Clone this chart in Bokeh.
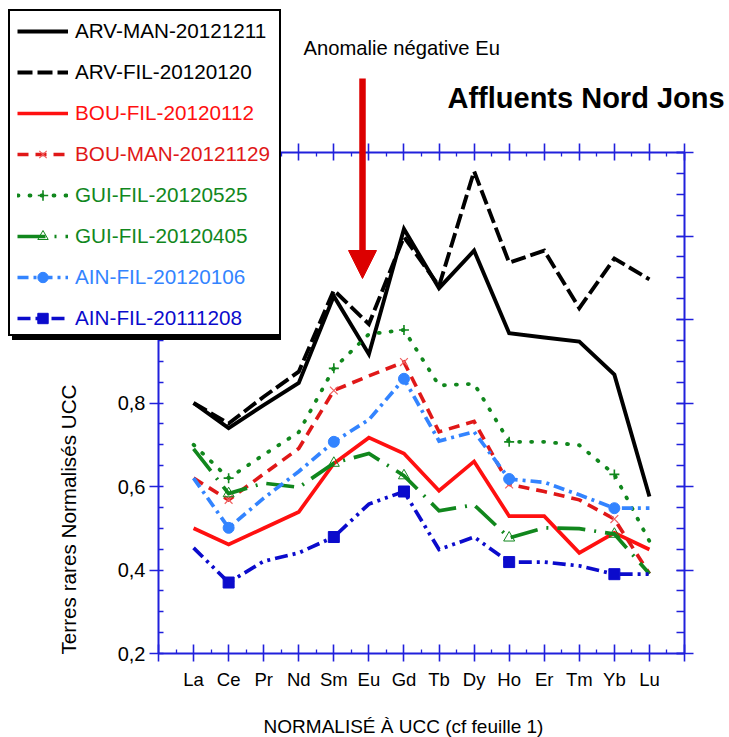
from bokeh.plotting import figure
from bokeh.models import (Range1d, LinearAxis, FixedTicker, CustomJSTickFormatter,
                          Legend, LegendItem, Label, Arrow, NormalHead)
from bokeh.embed import file_html
from bokeh.resources import INLINE

# ---------------- data ----------------
elements = ["La", "Ce", "Pr", "Nd", "Sm", "Eu", "Gd", "Tb", "Dy", "Ho", "Er", "Tm", "Yb", "Lu"]
marker_elements = ["Ce", "Sm", "Gd", "Ho", "Yb"]

arv_man_20121211 = [0.80, 0.74, 0.795, 0.848, 1.056, 0.917, 1.217, 1.075, 1.165, 0.967, 0.957, 0.947, 0.868, 0.576]
arv_fil_20120120 = [0.80, 0.751, 0.815, 0.875, 1.07, 0.989, 1.198, 1.08, 1.355, 1.136, 1.165, 1.027, 1.146, 1.096]
bou_fil_20120112 = [0.50, 0.461, 0.50, 0.539, 0.655, 0.717, 0.679, 0.59, 0.66, 0.529, 0.529, 0.441, 0.489, 0.449]
bou_man_20121129 = [0.62, 0.568, 0.63, 0.691, 0.83, 0.865, 0.898, 0.731, 0.756, 0.605, 0.588, 0.568, 0.522, 0.391]
gui_fil_20120525 = [0.70, 0.62, 0.676, 0.73, 0.883, 0.965, 0.975, 0.842, 0.846, 0.707, 0.707, 0.699, 0.629, 0.469]
gui_fil_20120405 = [0.69, 0.583, 0.608, 0.598, 0.656, 0.679, 0.626, 0.542, 0.556, 0.477, 0.501, 0.499, 0.486, 0.391]
ain_fil_20120106 = [0.62, 0.501, 0.572, 0.636, 0.707, 0.76, 0.858, 0.709, 0.731, 0.618, 0.61, 0.58, 0.548, 0.548]
ain_fil_20111208 = [0.453, 0.37, 0.421, 0.441, 0.479, 0.558, 0.588, 0.449, 0.479, 0.419, 0.419, 0.41, 0.39, 0.39]

series_names = ["ARV-MAN-20121211", "ARV-FIL-20120120", "BOU-FIL-20120112", "BOU-MAN-20121129",
                "GUI-FIL-20120525", "GUI-FIL-20120405", "AIN-FIL-20120106", "AIN-FIL-20111208"]
series_values = [arv_man_20121211, arv_fil_20120120, bou_fil_20120112, bou_man_20121129,
                 gui_fil_20120525, gui_fil_20120405, ain_fil_20120106, ain_fil_20111208]

y_ticks = [0.2, 0.4, 0.6, 0.8, 1.0, 1.2, 1.4]
Y_MIN, Y_MAX = 0.2, 1.4

title_text = "Affluents Nord Jons"
annotation_text = "Anomalie négative Eu"
x_label = "NORMALISÉ À UCC (cf feuille 1)"
y_label = "Terres rares Normalisés UCC"

# ---------------- styles ----------------
BLACK = "#000000"
RED = "#ff1010"
RED2 = "#e01818"
GREEN = "#11871d"
LBLUE = "#3384ff"
DBLUE = "#0b0bcc"
AXIS = "#2020dc"
ARROW = "#dc0000"
FONT = "Liberation Sans"

styles = [
    dict(color=BLACK, text=BLACK, width=3.9, dash="solid", cap="butt", marker=None),
    dict(color=BLACK, text=BLACK, width=3.9, dash="15 5", cap="butt", marker=None),
    dict(color=RED, text=RED, width=3.7, dash="solid", cap="butt", marker=None),
    dict(color=RED2, text=RED2, width=3.6, dash="11 7", cap="butt",
         marker=dict(marker="x", size=11, line_color="#f06060", line_width=1.2)),
    dict(color=GREEN, text=GREEN, width=3.8, dash="1 11", cap="round",
         marker=dict(marker="cross", size=10, line_color=GREEN, line_width=1.6)),
    dict(color=GREEN, text=GREEN, width=3.7, dash="28 9 2 9", cap="butt",
         marker=dict(marker="triangle", size=11, line_color=GREEN, line_width=1.0, fill_alpha=0)),
    dict(color=LBLUE, text=LBLUE, width=3.7, dash="11 5 3 5", cap="butt",
         marker=dict(marker="circle", size=11, line_color=LBLUE, fill_color=LBLUE)),
    dict(color=DBLUE, text=DBLUE, width=3.7, dash="13 5 3 5 3 5", cap="butt",
         marker=dict(marker="square", size=11, line_color=DBLUE, fill_color=DBLUE)),
]

# ---------------- layout (canvas pixels) ----------------
W, H = 729, 737
AX_L, AX_R, AX_T, AX_B = 158, 684, 152, 653     # where the axes sit on the canvas
XMAX = len(elements) + 1
PX = (AX_R - AX_L) / XMAX
PY = (AX_B - AX_T) / (Y_MAX - Y_MIN)
x0 = 0 - AX_L / PX
x1 = XMAX + (W - AX_R) / PX
y0 = Y_MIN - (H - AX_B) / PY
y1 = Y_MAX + AX_T / PY


def data_x(cx):
    return x0 + cx / PX


def data_y(cy):
    return y1 - cy / PY


p = figure(width=W, height=H, x_range=Range1d(x0, x1), y_range=Range1d(y0, y1),
           output_backend="svg", toolbar_location=None, x_axis_type=None, y_axis_type=None,
           min_border=0)
p.title.visible = False
p.outline_line_color = None
p.background_fill_color = "white"
p.border_fill_color = "white"


def style_axis(ax, mt_in, mt_out, mn_in):
    ax.axis_line_color = AXIS
    ax.axis_line_width = 2
    ax.major_tick_line_color = AXIS
    ax.minor_tick_line_color = AXIS
    ax.major_tick_line_width = 1.6
    ax.minor_tick_line_width = 1.3
    ax.major_tick_in = mt_in
    ax.major_tick_out = mt_out
    ax.minor_tick_in = mn_in
    ax.minor_tick_out = 0
    ax.major_label_text_font = FONT
    ax.major_label_text_color = "black"


x_major = list(range(0, XMAX + 1))
x_minor = [i + 0.5 for i in range(XMAX)]
y_minor = [round(Y_MIN + 0.05 * i, 2) for i in range(25)]
blank = CustomJSTickFormatter(code="return '';")

bottom = LinearAxis(ticker=FixedTicker(ticks=x_major, minor_ticks=x_minor),
                    fixed_location=Y_MIN, bounds=(0, XMAX),
                    major_label_overrides={i: (elements[i - 1] if 1 <= i <= len(elements) else "") for i in x_major})
style_axis(bottom, 9, 8, 4)
bottom.major_label_text_font_size = "18.5px"
bottom.major_label_standoff = 7
p.add_layout(bottom, "below")

top = LinearAxis(ticker=FixedTicker(ticks=x_major, minor_ticks=x_minor), formatter=blank,
                 fixed_location=Y_MAX, bounds=(0, XMAX))
style_axis(top, 8, 9, 4)
top.major_label_text_font_size = "1px"
p.add_layout(top, "above")

left = LinearAxis(ticker=FixedTicker(ticks=y_ticks, minor_ticks=y_minor),
                  formatter=CustomJSTickFormatter(code="return tick.toFixed(1).replace('.', ',');"),
                  fixed_location=0, bounds=(Y_MIN, Y_MAX))
style_axis(left, 0, 9, 5)
left.major_label_text_font_size = "20px"
left.major_label_standoff = 4
p.add_layout(left, "left")

right = LinearAxis(ticker=FixedTicker(ticks=y_ticks, minor_ticks=y_minor), formatter=blank,
                   fixed_location=XMAX, bounds=(Y_MIN, Y_MAX))
style_axis(right, 8, 9, 8)
right.major_label_text_font_size = "1px"
p.add_layout(right, "right")

# ---------------- series ----------------
xs = list(range(1, len(elements) + 1))
legend_renderers = []
for name, vals, st in zip(series_names, series_values, styles):
    r = p.line(xs, vals, line_color=st["color"], line_width=st["width"],
               line_dash=st["dash"], line_cap=st["cap"], line_join="miter")
    rs = [r]
    if st["marker"] is not None:
        mx = [xs[elements.index(e)] for e in marker_elements]
        my = [vals[elements.index(e)] for e in marker_elements]
        rs.append(p.scatter(mx, my, **st["marker"]))
    legend_renderers.append(rs)

# ---------------- legend (shadow + box + coloured rows) ----------------
dummy = p.line([0], [0], line_alpha=0)
BOX_L, BOX_T, BOX_R, BOX_B = 8, 13, 277, 336


def box_legend(dx, dy, fill, border):
    return Legend(items=[LegendItem(label=" ", renderers=[dummy])],
                  location=(BOX_L + dx, H - (BOX_B + dy)),
                  padding=0, margin=0, spacing=0,
                  glyph_width=BOX_R - BOX_L, glyph_height=BOX_B - BOX_T,
                  label_width=0, label_height=0, label_standoff=0,
                  label_text_font_size="1px",
                  background_fill_color=fill, background_fill_alpha=1,
                  border_line_color=border if border else "black", border_line_width=2,
                  border_line_alpha=1 if border else 0)


p.add_layout(box_legend(4, 4, "black", None))
p.add_layout(box_legend(0, 0, "white", "black"))

ROW0, ROW_STEP, ROW_H = 30.7, 41.1, 26
for i, (name, rs, st) in enumerate(zip(series_names, legend_renderers, styles)):
    cy = ROW0 + ROW_STEP * i
    leg = Legend(items=[LegendItem(label=name, renderers=rs)],
                 location=(17, H - (cy + ROW_H / 2)),
                 padding=0, margin=0, spacing=0,
                 glyph_width=51, glyph_height=ROW_H, label_height=ROW_H, label_width=0,
                 label_standoff=7, label_text_font=FONT, label_text_font_size="20.7px",
                 label_text_color=st["text"], background_fill_alpha=0, border_line_alpha=0)
    p.add_layout(leg)

# ---------------- texts & arrow ----------------
p.add_layout(Label(x=data_x(447), y=data_y(97), text=title_text, text_font=FONT,
                   text_font_size="29px", text_font_style="bold", text_color="black",
                   text_align="left", text_baseline="middle"))
p.add_layout(Label(x=data_x(303), y=data_y(47), text=annotation_text, text_font=FONT,
                   text_font_size="20.2px", text_color="black",
                   text_align="left", text_baseline="middle"))
p.add_layout(Label(x=data_x(403), y=data_y(726), text=x_label, text_font=FONT,
                   text_font_size="19px", text_color="black",
                   text_align="center", text_baseline="middle"))
p.add_layout(Label(x=data_x(68), y=data_y(519), text=y_label, text_font=FONT,
                   text_font_size="20.7px", text_color="black", angle=1.5707963,
                   text_align="center", text_baseline="middle"))

ax_x = data_x(362)
p.add_layout(Arrow(end=NormalHead(size=28, fill_color=ARROW, line_color=ARROW, line_width=1),
                   x_start=ax_x, y_start=data_y(78), x_end=ax_x, y_end=data_y(278),
                   line_color=ARROW, line_width=6.5))

open("out.html", "w").write(file_html(p, INLINE))
